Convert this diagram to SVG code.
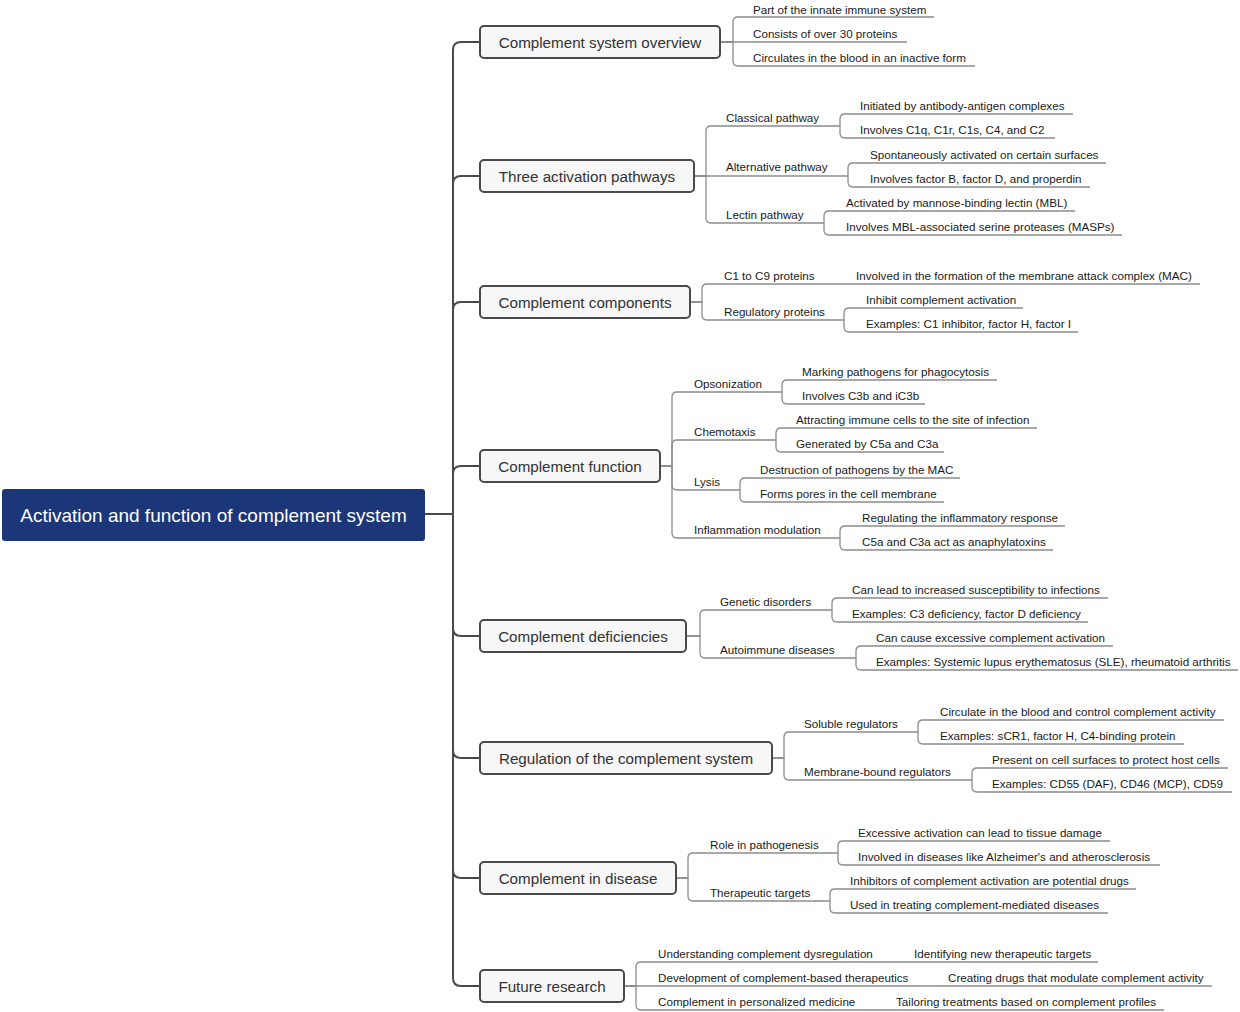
<svg xmlns="http://www.w3.org/2000/svg" width="1240" height="1012" viewBox="0 0 1240 1012">
<style>
.bg{fill:#ffffff}
.main{fill:none;stroke:#4a4a4a;stroke-width:2}
.sub{fill:none;stroke:#8c8c8c;stroke-width:1.3}
.root rect{fill:#1b3679}
.root text{fill:#ffffff;font-family:"Liberation Sans",Arial,sans-serif;font-size:19px;text-anchor:middle}
.topic rect{fill:#f7f7f7;stroke:#4a4a4a;stroke-width:2}
.topic text{fill:#333333;font-family:"Liberation Sans",Arial,sans-serif;font-size:15.2px;text-anchor:middle}
.t{fill:#1a1a1a;font-family:"Liberation Sans",Arial,sans-serif;font-size:11.65px}
</style>
<rect class="bg" x="0" y="0" width="1240" height="1012"/>
<g id="connectors">
<g class="main">
<path d="M425 514 H453 V50 Q453 42 461 42 H480"/>
<path d="M425 514 H453 V184 Q453 176 461 176 H480"/>
<path d="M425 514 H453 V310 Q453 302 461 302 H480"/>
<path d="M425 514 H453 V474 Q453 466 461 466 H480"/>
<path d="M425 514 H453 V628 Q453 636 461 636 H480"/>
<path d="M425 514 H453 V750 Q453 758 461 758 H480"/>
<path d="M425 514 H453 V870 Q453 878 461 878 H480"/>
<path d="M425 514 H453 V978 Q453 986 461 986 H480"/>
</g>
<g class="sub">
<path d="M720 42 H733 V22 Q733 17 738 17 H934"/>
<path d="M720 42 H907"/>
<path d="M720 42 H733 V61 Q733 66 738 66 H975"/>

<path d="M694 176 H706 V131 Q706 126 711 126 H840"/>
<path d="M694 176 H848"/>
<path d="M694 176 H706 V218 Q706 223 711 223 H824"/>
<path d="M840 126 V119 Q840 114 845 114 H1073"/>
<path d="M840 126 V133 Q840 138 845 138 H1055"/>
<path d="M848 176 V168 Q848 163 853 163 H1106"/>
<path d="M848 176 V182 Q848 187 853 187 H1090"/>
<path d="M824 223 V216 Q824 211 829 211 H1075"/>
<path d="M824 223 V230 Q824 235 829 235 H1122"/>

<path d="M690 302 H702 V289 Q702 284 707 284 H1200"/>
<path d="M690 302 H702 V315 Q702 320 707 320 H844"/>
<path d="M844 320 V313 Q844 308 849 308 H1023"/>
<path d="M844 320 V327 Q844 332 849 332 H1078"/>

<path d="M660 466 H672 V397 Q672 392 677 392 H782"/>
<path d="M660 466 H672 V445 Q672 440 677 440 H776"/>
<path d="M660 466 H672 V485 Q672 490 677 490 H740"/>
<path d="M660 466 H672 V533 Q672 538 677 538 H840"/>
<path d="M782 392 V385 Q782 380 787 380 H997"/>
<path d="M782 392 V399 Q782 404 787 404 H925"/>
<path d="M776 440 V433 Q776 428 781 428 H1037"/>
<path d="M776 440 V447 Q776 452 781 452 H944"/>
<path d="M740 490 V483 Q740 478 745 478 H960"/>
<path d="M740 490 V497 Q740 502 745 502 H944"/>
<path d="M840 538 V531 Q840 526 845 526 H1065"/>
<path d="M840 538 V545 Q840 550 845 550 H1053"/>

<path d="M686 636 H700 V615 Q700 610 705 610 H832"/>
<path d="M686 636 H700 V653 Q700 658 705 658 H856"/>
<path d="M832 610 V603 Q832 598 837 598 H1108"/>
<path d="M832 610 V617 Q832 622 837 622 H1088"/>
<path d="M856 658 V651 Q856 646 861 646 H1113"/>
<path d="M856 658 V665 Q856 670 861 670 H1238"/>

<path d="M772 758 H784 V737 Q784 732 789 732 H918"/>
<path d="M772 758 H784 V775 Q784 780 789 780 H972"/>
<path d="M918 732 V725 Q918 720 923 720 H1224"/>
<path d="M918 732 V739 Q918 744 923 744 H1184"/>
<path d="M972 780 V773 Q972 768 977 768 H1228"/>
<path d="M972 780 V787 Q972 792 977 792 H1232"/>

<path d="M676 878 H688 V858 Q688 853 693 853 H838"/>
<path d="M676 878 H688 V896 Q688 901 693 901 H830"/>
<path d="M838 853 V846 Q838 841 843 841 H1110"/>
<path d="M838 853 V860 Q838 865 843 865 H1160"/>
<path d="M830 901 V894 Q830 889 835 889 H1136"/>
<path d="M830 901 V908 Q830 913 835 913 H1108"/>

<path d="M624 986 H636 V967 Q636 962 641 962 H1098"/>
<path d="M624 986 H1212"/>
<path d="M624 986 H636 V1005 Q636 1010 641 1010 H1164"/>
</g>
</g>

<g id="root" class="root">
<rect x="2" y="489" width="423" height="52" rx="3"/>
<text x="213.5" y="521.5">Activation and function of complement system</text>
</g>

<g id="n1" class="topic"><rect x="480" y="26" width="240" height="32" rx="4"/><text x="600" y="47.5">Complement system overview</text></g>
<g id="n2" class="topic"><rect x="480" y="160" width="214" height="32" rx="4"/><text x="587" y="181.5">Three activation pathways</text></g>
<g id="n3" class="topic"><rect x="480" y="286" width="210" height="32" rx="4"/><text x="585" y="307.5">Complement components</text></g>
<g id="n4" class="topic"><rect x="480" y="450" width="180" height="32" rx="4"/><text x="570" y="471.5">Complement function</text></g>
<g id="n5" class="topic"><rect x="480" y="620" width="206" height="32" rx="4"/><text x="583" y="641.5">Complement deficiencies</text></g>
<g id="n6" class="topic"><rect x="480" y="742" width="292" height="32" rx="4"/><text x="626" y="763.5">Regulation of the complement system</text></g>
<g id="n7" class="topic"><rect x="480" y="862" width="196" height="32" rx="4"/><text x="578" y="883.5">Complement in disease</text></g>
<g id="n8" class="topic"><rect x="480" y="970" width="144" height="32" rx="4"/><text x="552" y="991.5">Future research</text></g>

<g id="n1-leaves">
<text class="t" x="753" y="13.5">Part of the innate immune system</text>
<text class="t" x="753" y="38">Consists of over 30 proteins</text>
<text class="t" x="753" y="62">Circulates in the blood in an inactive form</text>
</g>

<g id="n2-classical">
<text class="t" x="726" y="122">Classical pathway</text>
<text class="t" x="860" y="110">Initiated by antibody-antigen complexes</text>
<text class="t" x="860" y="134">Involves C1q, C1r, C1s, C4, and C2</text>
</g>
<g id="n2-alternative">
<text class="t" x="726" y="171">Alternative pathway</text>
<text class="t" x="870" y="159">Spontaneously activated on certain surfaces</text>
<text class="t" x="870" y="183">Involves factor B, factor D, and properdin</text>
</g>
<g id="n2-lectin">
<text class="t" x="726" y="219">Lectin pathway</text>
<text class="t" x="846" y="207">Activated by mannose-binding lectin (MBL)</text>
<text class="t" x="846" y="231">Involves MBL-associated serine proteases (MASPs)</text>
</g>

<g id="n3-c1c9">
<text class="t" x="724" y="280">C1 to C9 proteins</text>
<text class="t" x="856" y="280">Involved in the formation of the membrane attack complex (MAC)</text>
</g>
<g id="n3-regulatory">
<text class="t" x="724" y="316">Regulatory proteins</text>
<text class="t" x="866" y="304">Inhibit complement activation</text>
<text class="t" x="866" y="328">Examples: C1 inhibitor, factor H, factor I</text>
</g>

<g id="n4-opsonization">
<text class="t" x="694" y="388">Opsonization</text>
<text class="t" x="802" y="376">Marking pathogens for phagocytosis</text>
<text class="t" x="802" y="400">Involves C3b and iC3b</text>
</g>
<g id="n4-chemotaxis">
<text class="t" x="694" y="436">Chemotaxis</text>
<text class="t" x="796" y="424">Attracting immune cells to the site of infection</text>
<text class="t" x="796" y="448">Generated by C5a and C3a</text>
</g>
<g id="n4-lysis">
<text class="t" x="694" y="486">Lysis</text>
<text class="t" x="760" y="474">Destruction of pathogens by the MAC</text>
<text class="t" x="760" y="498">Forms pores in the cell membrane</text>
</g>
<g id="n4-inflammation">
<text class="t" x="694" y="534">Inflammation modulation</text>
<text class="t" x="862" y="522">Regulating the inflammatory response</text>
<text class="t" x="862" y="546">C5a and C3a act as anaphylatoxins</text>
</g>

<g id="n5-genetic">
<text class="t" x="720" y="606">Genetic disorders</text>
<text class="t" x="852" y="594">Can lead to increased susceptibility to infections</text>
<text class="t" x="852" y="618">Examples: C3 deficiency, factor D deficiency</text>
</g>
<g id="n5-autoimmune">
<text class="t" x="720" y="654">Autoimmune diseases</text>
<text class="t" x="876" y="642">Can cause excessive complement activation</text>
<text class="t" x="876" y="666">Examples: Systemic lupus erythematosus (SLE), rheumatoid arthritis</text>
</g>

<g id="n6-soluble">
<text class="t" x="804" y="728">Soluble regulators</text>
<text class="t" x="940" y="716">Circulate in the blood and control complement activity</text>
<text class="t" x="940" y="740">Examples: sCR1, factor H, C4-binding protein</text>
</g>
<g id="n6-membrane">
<text class="t" x="804" y="776">Membrane-bound regulators</text>
<text class="t" x="992" y="764">Present on cell surfaces to protect host cells</text>
<text class="t" x="992" y="788">Examples: CD55 (DAF), CD46 (MCP), CD59</text>
</g>

<g id="n7-role">
<text class="t" x="710" y="849">Role in pathogenesis</text>
<text class="t" x="858" y="837">Excessive activation can lead to tissue damage</text>
<text class="t" x="858" y="861">Involved in diseases like Alzheimer's and atherosclerosis</text>
</g>
<g id="n7-therapeutic">
<text class="t" x="710" y="897">Therapeutic targets</text>
<text class="t" x="850" y="885">Inhibitors of complement activation are potential drugs</text>
<text class="t" x="850" y="909">Used in treating complement-mediated diseases</text>
</g>

<g id="n8-items">
<text class="t" x="658" y="958">Understanding complement dysregulation</text>
<text class="t" x="914" y="958">Identifying new therapeutic targets</text>
<text class="t" x="658" y="982">Development of complement-based therapeutics</text>
<text class="t" x="948" y="982">Creating drugs that modulate complement activity</text>
<text class="t" x="658" y="1006">Complement in personalized medicine</text>
<text class="t" x="896" y="1006">Tailoring treatments based on complement profiles</text>
</g>
</svg>
